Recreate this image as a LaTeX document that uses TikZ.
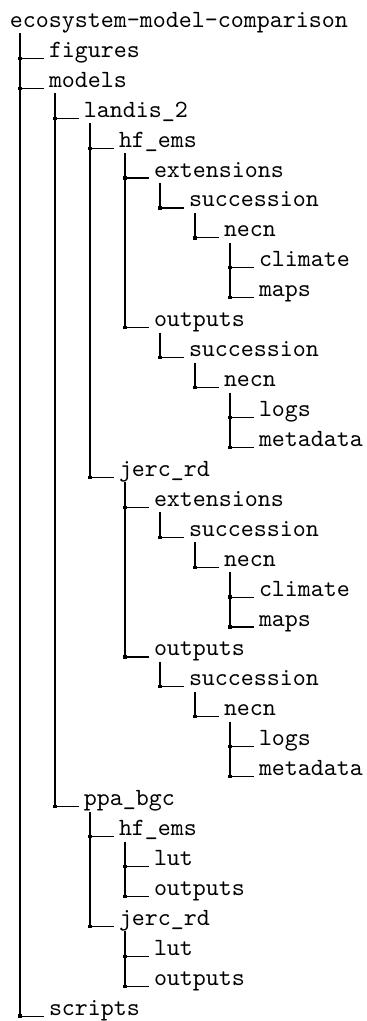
\documentclass[tikz,border=0pt]{standalone}
\usetikzlibrary{calc}
\begin{document}
\begin{tikzpicture}[x=0.4pt,y=-0.4pt,
  entry/.style={anchor=base west,inner sep=0pt,outer sep=0pt,font=\fontsize{9.9}{12}\selectfont\ttfamily},
  tline/.style={line width=0.45pt,black},
  junction/.style={rectangle,fill=black,inner sep=0pt,minimum size=1.3pt}]
\useasboundingbox (0,0) rectangle (367,1021);
\newcommand\entry[4]{\node[entry] (#1) at ({49+35*(#2-1)},{27.4+29.93*#3}) {#4};}
\newcommand\elbow[3][6]{\draw[tline] ($(#2.base west)+(#1,6)$) |- node[junction]{} ($(#3.base west)+(-5,1)$);}
\node[entry] (n0) at (10,27.4) {ecosystem-model-comparison};
\entry{n1}{1}{1}{figures}
\entry{n2}{1}{2}{models}
\entry{n3}{2}{3}{landis\_2}
\entry{n4}{3}{4}{hf\_ems}
\entry{n5}{4}{5}{extensions}
\entry{n6}{5}{6}{succession}
\entry{n7}{6}{7}{necn}
\entry{n8}{7}{8}{climate}
\entry{n9}{7}{9}{maps}
\entry{n10}{4}{10}{outputs}
\entry{n11}{5}{11}{succession}
\entry{n12}{6}{12}{necn}
\entry{n13}{7}{13}{logs}
\entry{n14}{7}{14}{metadata}
\entry{n15}{3}{15}{jerc\_rd}
\entry{n16}{4}{16}{extensions}
\entry{n17}{5}{17}{succession}
\entry{n18}{6}{18}{necn}
\entry{n19}{7}{19}{climate}
\entry{n20}{7}{20}{maps}
\entry{n21}{4}{21}{outputs}
\entry{n22}{5}{22}{succession}
\entry{n23}{6}{23}{necn}
\entry{n24}{7}{24}{logs}
\entry{n25}{7}{25}{metadata}
\entry{n26}{2}{26}{ppa\_bgc}
\entry{n27}{3}{27}{hf\_ems}
\entry{n28}{4}{28}{lut}
\entry{n29}{4}{29}{outputs}
\entry{n30}{3}{30}{jerc\_rd}
\entry{n31}{4}{31}{lut}
\entry{n32}{4}{32}{outputs}
\entry{n33}{1}{33}{scripts}
\elbow[10]{n0}{n33}
\elbow[10]{n0}{n1}
\elbow[10]{n0}{n2}
\elbow{n2}{n26}
\elbow{n2}{n3}
\elbow{n3}{n15}
\elbow{n3}{n4}
\elbow{n4}{n10}
\elbow{n4}{n5}
\elbow{n5}{n6}
\elbow{n6}{n7}
\elbow{n7}{n9}
\elbow{n7}{n8}
\elbow{n10}{n11}
\elbow{n11}{n12}
\elbow{n12}{n14}
\elbow{n12}{n13}
\elbow{n15}{n21}
\elbow{n15}{n16}
\elbow{n16}{n17}
\elbow{n17}{n18}
\elbow{n18}{n20}
\elbow{n18}{n19}
\elbow{n21}{n22}
\elbow{n22}{n23}
\elbow{n23}{n25}
\elbow{n23}{n24}
\elbow{n26}{n30}
\elbow{n26}{n27}
\elbow{n27}{n29}
\elbow{n27}{n28}
\elbow{n30}{n32}
\elbow{n30}{n31}
\end{tikzpicture}
\end{document}
